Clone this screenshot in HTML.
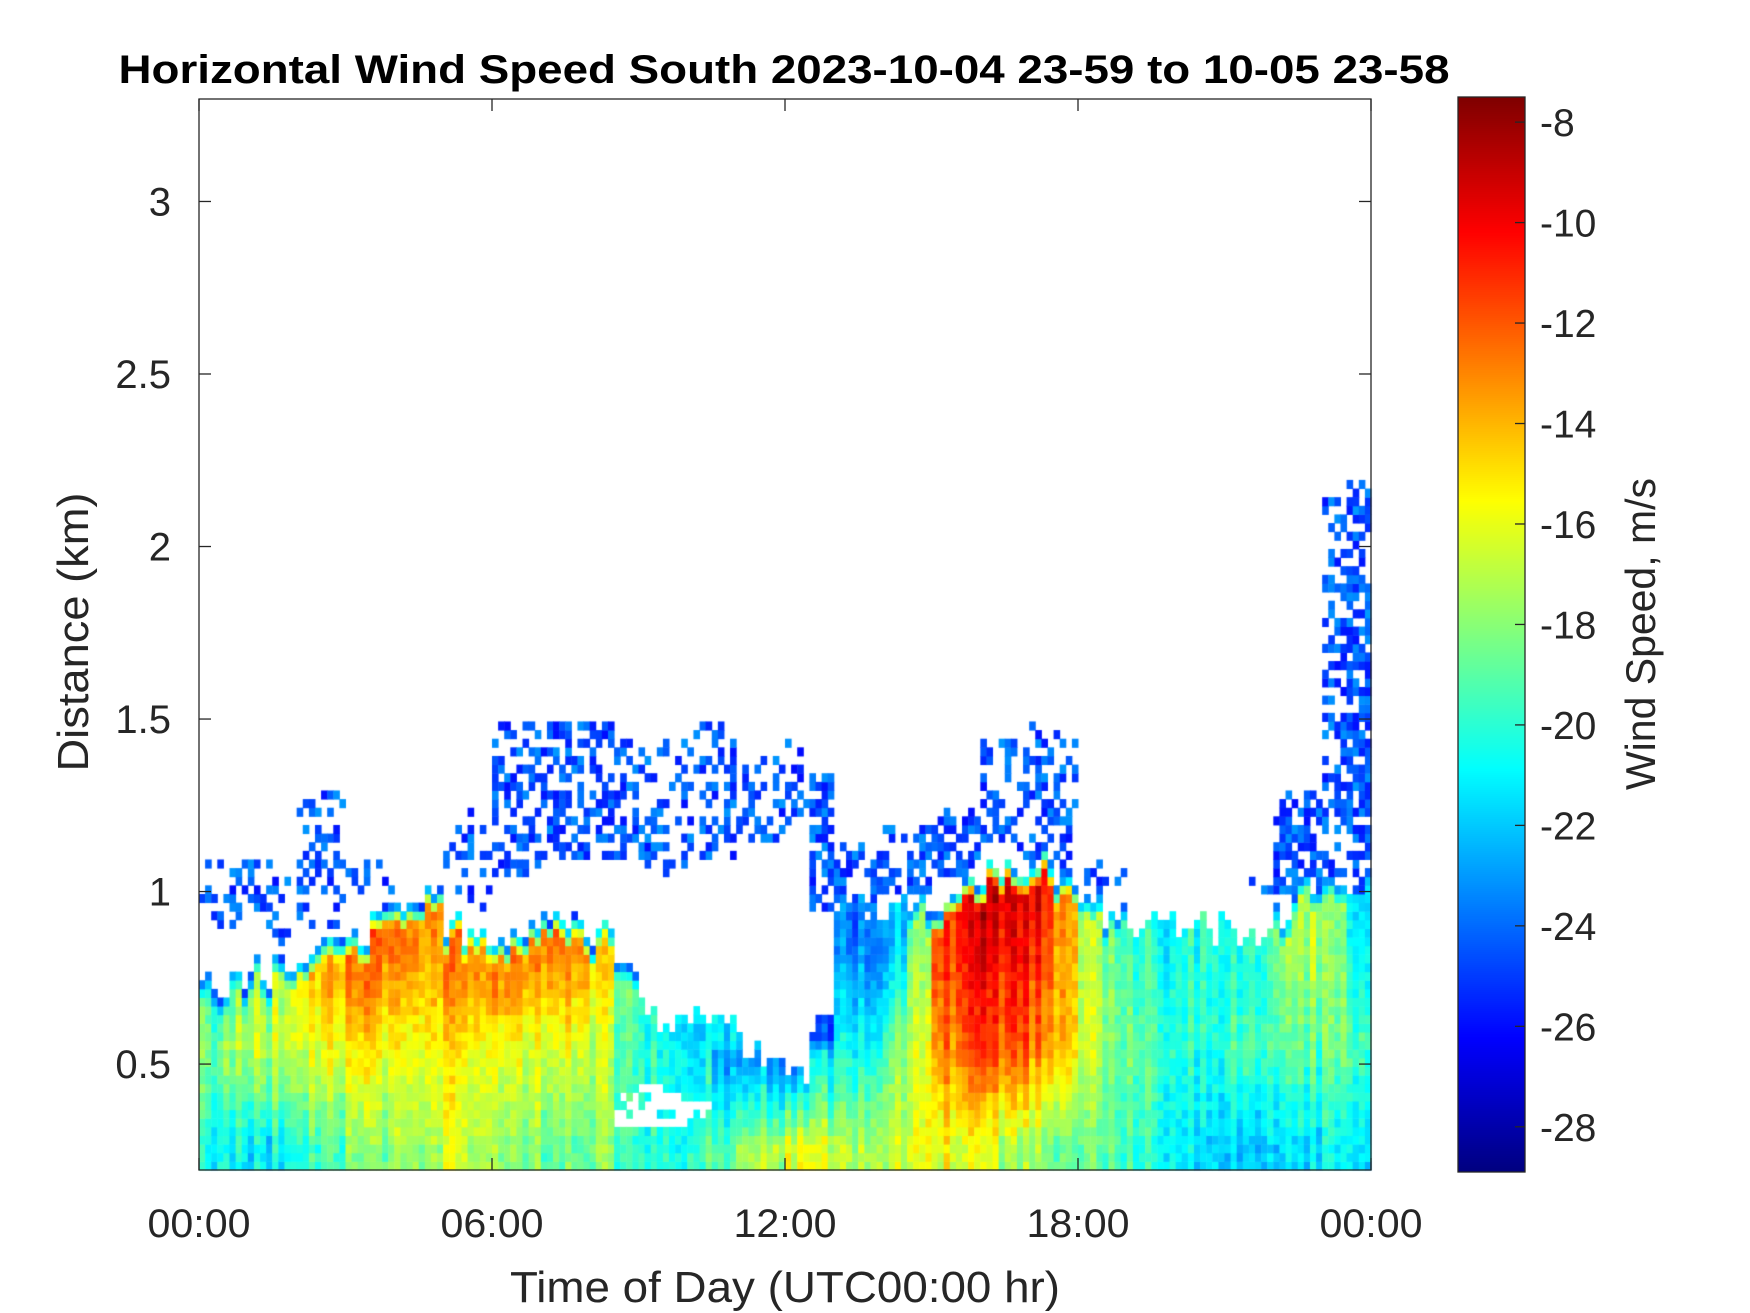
<!DOCTYPE html>
<html><head><meta charset="utf-8">
<style>
html,body{margin:0;padding:0;background:#fff;}
#wrap{position:relative;width:1750px;height:1313px;overflow:hidden;font-family:"Liberation Sans",Arial,sans-serif;}
canvas{position:absolute;left:0;top:0;}
svg{position:absolute;left:0;top:0;}
</style></head>
<body>
<div id="wrap">
<canvas id="heat" width="1750" height="1313"></canvas>
<svg id="ov" width="1750" height="1313"></svg>
</div>
<script>
// ---- data (48 half-hour columns, 00:00 -> 24:00) ----
const hourCols = Array.from({length:48},(_, i)=>i*0.5);
const denseTop = [.73,.73,.76,.78,.84,.86,.88,.93,.98,.97,.90,.90,.88,.88,.93,.92,.88,.80,.65,.62,.62,.63,.55,.47,.47,.62,.95,.95,.96,.96,.96,1.00,1.05,1.08,1.08,1.06,1.00,.93,.90,.90,.90,.90,.88,.85,.95,1.02,1.02,1.0];
const speedLow = [-20.5,-21,-21.5,-21,-20,-19.5,-18.5,-18,-17,-17,-17,-17,-18,-18,-18.5,-18.5,-18,-19,-20,-20,-19,-19,-18,-17,-16,-16.5,-17,-16.5,-16.5,-16,-16,-16.5,-17,-17.5,-18,-18.5,-19,-19.5,-20,-20.5,-21,-21.5,-22,-22.5,-22,-21.5,-21,-21];
const speedMid = [-18,-17.5,-17,-17,-16.5,-16,-15.5,-15.5,-15,-15,-15.5,-15.5,-16,-16,-16,-16,-17,-19,-20,-20.5,-21,-23,-24,-24,-25,-22,-20.5,-20,-18,-16.5,-13,-12,-12,-12,-13,-14,-17,-18.5,-19,-19.5,-20,-20,-19.5,-20,-19.5,-19,-18.5,-19];
const speedTop = [-19,-18,-17.5,-17,-15,-14,-13,-12,-12,-12.5,-13,-13,-13,-13,-12,-13,-15,-18,-20,-21,-21,-21,-22,-24,-25.5,-25,-23.5,-23,-22,-18,-11,-10,-9.5,-9.5,-10,-13,-17,-19,-20,-20.5,-20,-20,-20.5,-20.5,-18,-17,-18,-21];
const sparseBot = [.9,.9,.9,.85,.9,.9,1.0,1.0,0,0,1.0,.95,1.05,1.05,1.1,1.1,1.1,1.1,1.05,1.05,1.1,1.1,1.15,1.15,1.2,.95,.95,.95,1.0,1.0,1.05,1.05,1.1,1.1,1.05,1.05,1.0,1.0,0,0,0,0,1.0,1.0,1.0,1.0,1.05,1.0];
const sparseTop = [1.1,1.1,1.1,1.05,1.3,1.3,1.1,1.1,0,0,1.2,1.25,1.5,1.5,1.5,1.5,1.5,1.5,1.45,1.45,1.5,1.5,1.4,1.4,1.45,1.35,1.15,1.15,1.2,1.2,1.25,1.25,1.45,1.45,1.5,1.5,1.1,1.1,0,0,0,0,1.05,1.05,1.3,1.3,2.15,2.2];
const sparseDensity = [.35,.3,.35,.3,.45,.4,.25,.2,0,0,.2,.3,.45,.5,.55,.55,.5,.45,.35,.3,.4,.45,.35,.35,.5,.7,.6,.55,.45,.5,.5,.55,.4,.45,.45,.4,.3,.2,0,0,0,0,.15,.2,.55,.6,.45,.7];
const holeBot = [0,0,0,0,0,0,0,0,0,0,0,0,0,0,0,0,0,.33,.32,.33,.34,0,0,0,0,0,0,0,0,0,0,0,0,0,0,0,0,0,0,0,0,0,0,0,0,0,0,0];
const holeTop = [0,0,0,0,0,0,0,0,0,0,0,0,0,0,0,0,0,.42,.44,.43,.40,0,0,0,0,0,0,0,0,0,0,0,0,0,0,0,0,0,0,0,0,0,0,0,0,0,0,0];
const yTicks = [0.5,1,1.5,2,2.5,3];
const yTickLabels = ["0.5","1","1.5","2","2.5","3"];
const xTicks = [0,6,12,18,24];
const xTickLabels = ["00:00","06:00","12:00","18:00","00:00"];
const cbTicks = [-8,-10,-12,-14,-16,-18,-20,-22,-24,-26,-28];

// ---- layout ----
const AX={l:199,r:1371,t:99,b:1170};
const Y0=0.193,Y1=3.297,X0=0,X1=24;
const CB={l:1458,r:1525,t:97,b:1172,vmin:-28.9,vmax:-7.5};
const xs=h=>AX.l+(h-X0)/(X1-X0)*(AX.r-AX.l);
const ys=k=>AX.b-(k-Y0)/(Y1-Y0)*(AX.b-AX.t);
const cbY=v=>CB.b-(v-CB.vmin)/(CB.vmax-CB.vmin)*(CB.b-CB.t);

function jet(t){t=Math.max(0,Math.min(1,t));
 const f=x=>Math.max(0,Math.min(1,1.5-Math.abs(4*t-x)));
 return [Math.round(255*f(3)),Math.round(255*f(2)),Math.round(255*f(1))];}
const colV=v=>jet((v-CB.vmin)/(CB.vmax-CB.vmin));
function hash(a,b){let h=(a*374761393+b*668265263)|0;h=(h^(h>>>13))*1274126177|0;return ((h^(h>>>16))>>>0)/4294967296;}

// ---- heatmap ----
const ctx=document.getElementById('heat').getContext('2d');
const SUB=4, dH=0.025;
for(let i=0;i<48;i++){
 for(let s=0;s<SUB;s++){
  const c=i*SUB+s, h0=hourCols[i]+s*0.5/SUB, h1=h0+0.5/SUB;
  const x0=xs(h0), x1=xs(h1);
  const colN=(hash(c,999)-0.5)*2.2;
  for(let k=Y0;k<Y1;k+=dH){
   const km=k+dH/2; let v=null;
   const top=denseTop[i]+(hash(c,7)-0.5)*0.1;
   if(km<top){
    if(holeTop[i]&&km>holeBot[i]&&km<holeTop[i]&&hash(c,Math.round(k*400))<0.7) v=null;
    else{
     const tl=Math.max(top-0.1,0.56);
     if(km<=0.25) v=speedLow[i];
     else if(km<=0.55) v=speedLow[i]+(speedMid[i]-speedLow[i])*(km-0.25)/0.3;
     else if(km<=tl) v=speedMid[i]+(speedTop[i]-speedMid[i])*(km-0.55)/Math.max(tl-0.55,0.01);
     else v=speedTop[i];
     if(km>top-0.06 && speedTop[i]>-20) v=v+(-24.5-v)*Math.min(1,(km-(top-0.06))/0.06);
     v+=colN+(hash(c,Math.round(k*1000))-0.5)*1.6;
    }
   } else if(sparseDensity[i]>0 && km>=sparseBot[i] && km<=sparseTop[i]){
    if(hash(c+17,Math.round(k*1000)+3)<sparseDensity[i]) v=-24.5+(hash(c,Math.round(k*777))-0.5)*3;
   }
   if(v!==null){const [r,g,b]=colV(v);ctx.fillStyle=`rgb(${r},${g},${b})`;
    const ya=ys(km+dH/2), yb=ys(km-dH/2);
    ctx.fillRect(x0,Math.max(AX.t,ya),x1-x0+0.5,Math.min(AX.b,yb)-Math.max(AX.t,ya)+0.5);}
  }
 }
}
// colorbar gradient
for(let y=CB.t;y<CB.b;y++){const v=CB.vmin+(CB.b-y)/(CB.b-CB.t)*(CB.vmax-CB.vmin);const [r,g,b]=colV(v);ctx.fillStyle=`rgb(${r},${g},${b})`;ctx.fillRect(CB.l,y,CB.r-CB.l,1);}

// ---- overlay ----
const svg=document.getElementById('ov');const NS='http://www.w3.org/2000/svg';
function mk(tag,attrs,txt){const e=document.createElementNS(NS,tag);for(const k in attrs)e.setAttribute(k,attrs[k]);if(txt!==undefined)e.textContent=txt;svg.appendChild(e);return e;}
const ink='#262626';
let e=mk('rect',{x:AX.l,y:AX.t,width:AX.r-AX.l,height:AX.b-AX.t,fill:'none',stroke:ink,'stroke-width':1.3});


yTicks.forEach((t,j)=>{const y=ys(t);
 mk('line',{x1:AX.l,x2:AX.l+12,y1:y,y2:y,stroke:ink,'stroke-width':1.3});
 mk('line',{x1:AX.r,x2:AX.r-12,y1:y,y2:y,stroke:ink,'stroke-width':1.3});
 e=mk('text',{x:171,y:y+14,'text-anchor':'end','font-size':40,fill:ink},yTickLabels[j]);
 
 
});
xTicks.forEach((t,j)=>{const x=xs(t);
 mk('line',{x1:x,x2:x,y1:AX.b,y2:AX.b-12,stroke:ink,'stroke-width':1.3});
 mk('line',{x1:x,x2:x,y1:AX.t,y2:AX.t+12,stroke:ink,'stroke-width':1.3});
 e=mk('text',{x:x,y:1237,'text-anchor':'middle','font-size':40,fill:ink,textLength:103,lengthAdjust:'spacingAndGlyphs'},xTickLabels[j]);
 
 
});
e=mk('text',{x:(AX.l+AX.r)/2,y:1302,'text-anchor':'middle','font-size':44,fill:ink,textLength:550,lengthAdjust:'spacingAndGlyphs'},'Time of Day (UTC00:00 hr)');


e=mk('text',{x:0,y:0,'text-anchor':'middle','font-size':44,fill:ink,textLength:279,lengthAdjust:'spacingAndGlyphs',transform:'translate(88,632) rotate(-90)'},'Distance (km)');


e=mk('text',{x:784,y:83,'text-anchor':'middle','font-size':40,'font-weight':'bold',fill:'#000',textLength:1331,lengthAdjust:'spacingAndGlyphs'},'Horizontal Wind Speed South 2023-10-04 23-59 to 10-05 23-58');


e=mk('rect',{x:CB.l,y:CB.t,width:CB.r-CB.l,height:CB.b-CB.t,fill:'none',stroke:ink,'stroke-width':1.3});


cbTicks.forEach(t=>{const y=cbY(t);
 mk('line',{x1:CB.r,x2:CB.r-10,y1:y,y2:y,stroke:ink,'stroke-width':1.3});
 e=mk('text',{x:CB.r+15,y:y+14,'font-size':39,fill:ink},String(t));
 
 
});
e=mk('text',{x:0,y:0,'text-anchor':'middle','font-size':42,fill:ink,textLength:312,lengthAdjust:'spacingAndGlyphs',transform:'translate(1655,634) rotate(-90)'},'Wind Speed, m/s');


</script>
</body></html>
